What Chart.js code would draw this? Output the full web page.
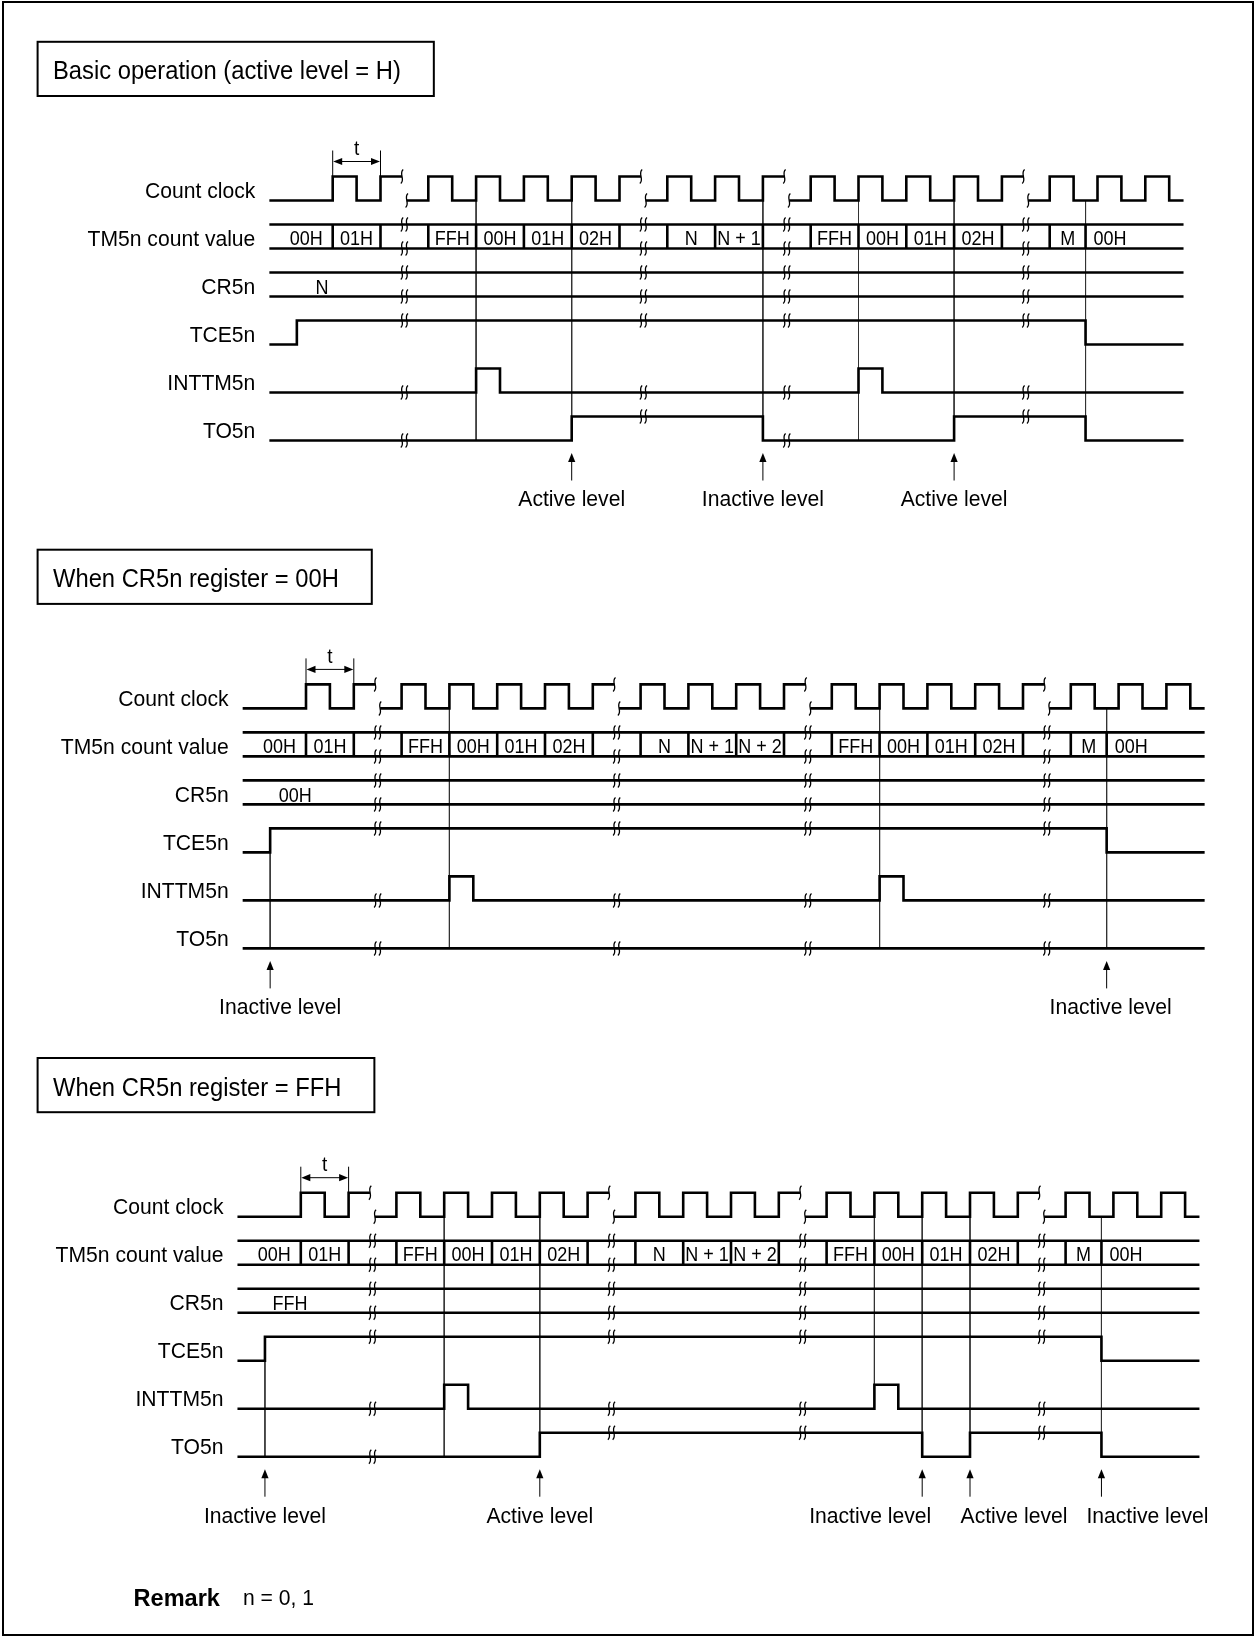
<!DOCTYPE html>
<html lang="en">
<head>
<meta charset="UTF-8">
<title>TM5n PWM output timing</title>
<script src="https://cdn.jsdelivr.net/npm/chart.js"></script>
<style>
  html, body { margin: 0; padding: 0; background: #fff; }
  #wrap { position: relative; width: 1256px; height: 1637px; }
</style>
</head>
<body>
<div id="wrap"><canvas id="timing" width="1256" height="1637"></canvas></div>
<script>
// time is counted in half clock periods, 0 = the rising edge marked "t"
const sectionTitles = ['Basic operation (active level = H)', 'When CR5n register = 00H', 'When CR5n register = FFH'];
const signalNames = ['Count clock', 'TM5n count value', 'CR5n', 'TCE5n', 'INTTM5n', 'TO5n'];
const startT = -2.65;
const endT = [35.6, 37.6, 37.6];

// count clock edges (rise on even, fall on odd) and where the time axis is broken
const clockEdges1 = [0, 1, 2, 3, 4, 5, 6, 7, 8, 9, 10, 11, 12, 13, 14, 15, 16, 17, 18, 19, 20, 21, 22, 23, 24, 25, 26, 27, 28, 29, 30, 31, 32, 33, 34, 35];
const clockEdges2 = [0, 1, 2, 3, 4, 5, 6, 7, 8, 9, 10, 11, 12, 13, 14, 15, 16, 17, 18, 19, 20, 21, 22, 23, 24, 25, 26, 27, 28, 29, 30, 31, 32, 33, 34, 35, 36, 37];
const clockEdges3 = [0, 1, 2, 3, 4, 5, 6, 7, 8, 9, 10, 11, 12, 13, 14, 15, 16, 17, 18, 19, 20, 21, 22, 23, 24, 25, 26, 27, 28, 29, 30, 31, 32, 33, 34, 35, 36, 37];
const breaks1 = [3, 13, 19, 29];
const breaks2 = [3, 13, 21, 31];
const breaks3 = [3, 13, 21, 31];

// TM5n count value: change points and the value shown in each slot
const countEdges1 = [0, 2, 4, 6, 8, 10, 12, 14, 16, 18, 20, 22, 24, 26, 28, 30, 31.5];
const countText1 = ['00H', '01H', '', 'FFH', '00H', '01H', '02H', '', 'N', 'N + 1', '', 'FFH', '00H', '01H', '02H', '', 'M', '00H'];
const countEdges2 = [0, 2, 4, 6, 8, 10, 12, 14, 16, 18, 20, 22, 24, 26, 28, 30, 32, 33.5];
const countText2 = ['00H', '01H', '', 'FFH', '00H', '01H', '02H', '', 'N', 'N + 1', 'N + 2', '', 'FFH', '00H', '01H', '02H', '', 'M', '00H'];
const countEdges3 = [0, 2, 4, 6, 8, 10, 12, 14, 16, 18, 20, 22, 24, 26, 28, 30, 32, 33.5];
const countText3 = ['00H', '01H', '', 'FFH', '00H', '01H', '02H', '', 'N', 'N + 1', 'N + 2', '', 'FFH', '00H', '01H', '02H', '', 'M', '00H'];

const crValue = ['N', '00H', 'FFH'];

// binary signals: all start low, toggle at these times
const tceEdges1 = [-1.5, 31.5];
const tceEdges2 = [-1.5, 33.5];
const tceEdges3 = [-1.5, 33.5];
const intEdges1 = [6, 7, 22, 23];
const intEdges2 = [6, 7, 24, 25];
const intEdges3 = [6, 7, 24, 25];
const toEdges1 = [10, 18, 26, 31.5];
const toEdges2 = [];
const toEdges3 = [10, 26, 28, 33.5];

// thin guide lines: [time, top row, top level, bottom row]
const guides1 = [[6, 0, 0, 5], [10, 0, 0, 5], [18, 0, 0, 5], [22, 0, 0, 5], [26, 0, 0, 5], [31.5, 0, 0, 5]];
const guides2 = [[-1.5, 3, 1, 5], [6, 0, 0, 5], [24, 0, 0, 5], [33.5, 0, 0, 5]];
const guides3 = [[-1.5, 3, 1, 5], [6, 0, 0, 5], [10, 0, 0, 5], [24, 0, 0, 4], [26, 0, 0, 5], [28, 0, 0, 5], [33.5, 0, 0, 5]];

// TO5n level notes
const noteTimes1 = [10, 18, 26];
const noteText1 = ['Active level', 'Inactive level', 'Active level'];
const noteTimes2 = [-1.5, 33.5];
const noteText2 = ['Inactive level', 'Inactive level'];
const noteTimes3 = [-1.5, 10, 26, 28, 33.5];
const noteText3 = ['Inactive level', 'Active level', 'Inactive level', 'Active level', 'Inactive level'];

const sections = [
  { clock: clockEdges1, breaks: breaks1, count: countEdges1, countText: countText1, tce: tceEdges1, int: intEdges1, to: toEdges1, guides: guides1, noteT: noteTimes1, noteS: noteText1 },
  { clock: clockEdges2, breaks: breaks2, count: countEdges2, countText: countText2, tce: tceEdges2, int: intEdges2, to: toEdges2, guides: guides2, noteT: noteTimes2, noteS: noteText2 },
  { clock: clockEdges3, breaks: breaks3, count: countEdges3, countText: countText3, tce: tceEdges3, int: intEdges3, to: toEdges3, guides: guides3, noteT: noteTimes3, noteS: noteText3 }
];

// layout
const W = 1256, H = 1637;
const PX_PER_T = 23.9;
const ORIGIN_PX = [332.7, 306, 300.8];   // x of t = 0 in each section
const BASE_PX = [200.5, 708.4, 1216.7];  // y of the count clock low level
const UNIT = 24;                          // one logic level, in px
const noteShift = [[0, 0, 0], [10, 4], [0, 0, -52, 44, 46]];
const FONT = '"Liberation Sans", Arial, Helvetica, sans-serif';

const rowLow = (s, r) => BASE_PX[s] / UNIT + 2 * r;

function wave(edges, yLow, t0, t1, breaks) {
  const pts = [{ x: t0, y: yLow }];
  let v = 0;
  edges.forEach(t => {
    if (breaks && breaks.includes(t)) {
      pts.push({ x: t - 0.1, y: yLow - v });
      pts.push({ x: t, y: null });
      v = 1 - v;
      pts.push({ x: t + 0.1, y: yLow - v });
    } else {
      pts.push({ x: t, y: yLow - v });
      v = 1 - v;
      pts.push({ x: t, y: yLow - v });
    }
  });
  pts.push({ x: t1, y: yLow - v });
  return pts;
}

function levelAt(edges, t) {
  return edges.filter(e => e < t).length % 2;
}

const datasets = [];
function addLine(xid, data, thin) {
  datasets.push({
    data: data, xAxisID: xid, yAxisID: 'y',
    borderColor: thin ? '#333' : '#000', borderWidth: thin ? 1 : 2.6,
    pointRadius: 0, fill: false, tension: 0, spanGaps: false,
    borderJoinStyle: 'miter', borderCapStyle: 'butt', order: thin ? 2 : 1
  });
}

sections.forEach((sec, s) => {
  const xid = 'x' + (s + 1);
  const t1 = endT[s];
  addLine(xid, wave(sec.clock, rowLow(s, 0), startT, t1, sec.breaks));
  // count value bus
  addLine(xid, [{ x: startT, y: rowLow(s, 1) - 1 }, { x: t1, y: rowLow(s, 1) - 1 }]);
  addLine(xid, [{ x: startT, y: rowLow(s, 1) }, { x: t1, y: rowLow(s, 1) }]);
  const sep = [];
  sec.count.forEach(t => { sep.push({ x: t, y: rowLow(s, 1) - 1 }, { x: t, y: rowLow(s, 1) }, { x: t, y: null }); });
  addLine(xid, sep);
  // CR5n bus
  addLine(xid, [{ x: startT, y: rowLow(s, 2) - 1 }, { x: t1, y: rowLow(s, 2) - 1 }]);
  addLine(xid, [{ x: startT, y: rowLow(s, 2) }, { x: t1, y: rowLow(s, 2) }]);
  addLine(xid, wave(sec.tce, rowLow(s, 3), startT, t1));
  addLine(xid, wave(sec.int, rowLow(s, 4), startT, t1));
  addLine(xid, wave(sec.to, rowLow(s, 5), startT, t1));
  const g = [];
  sec.guides.forEach(([t, r0, lv, r1]) => { g.push({ x: t, y: rowLow(s, r0) - lv }, { x: t, y: rowLow(s, r1) }, { x: t, y: null }); });
  addLine(xid, g, true);
});

function txt(ctx, str, x, yMid, size, align, squeeze, bold) {
  ctx.save();
  ctx.font = (bold ? 'bold ' : '') + size + 'px ' + FONT;
  ctx.textBaseline = 'alphabetic';
  ctx.textAlign = align;
  ctx.fillStyle = '#000';
  ctx.translate(x, yMid + size * 0.36);
  ctx.scale(squeeze, 1);
  ctx.fillText(str, 0, 0);
  ctx.restore();
}

function squiggle(ctx, x, y) {
  ctx.beginPath();
  ctx.moveTo(x + 1.2, y - 7);
  ctx.bezierCurveTo(x - 3.5, y - 3, x + 3.5, y + 3, x - 1.2, y + 7);
  ctx.stroke();
}

function arrowHead(ctx, x, y, dx, dy) {
  // tip at (x, y), pointing along (dx, dy)
  const L = 9, Wd = 3.6;
  ctx.beginPath();
  ctx.moveTo(x, y);
  ctx.lineTo(x - dx * L - dy * Wd, y - dy * L + dx * Wd);
  ctx.lineTo(x - dx * L + dy * Wd, y - dy * L - dx * Wd);
  ctx.closePath();
  ctx.fill();
}

const decor = {
  id: 'decor',
  afterDatasetsDraw(chart) {
    const ctx = chart.ctx;
    const Y = v => chart.scales.y.getPixelForValue(v);
    ctx.save();
    ctx.strokeStyle = '#000';
    ctx.fillStyle = '#000';
    ctx.lineWidth = 2;
    ctx.strokeRect(3, 2, W - 6, H - 4);

    sections.forEach((sec, s) => {
      const xs = chart.scales['x' + (s + 1)];
      const X = t => xs.getPixelForValue(t);
      const low = r => Y(rowLow(s, r));
      const high = r => Y(rowLow(s, r) - 1);

      // title box
      ctx.font = '25px ' + FONT;
      const tw = ctx.measureText(sectionTitles[s]).width * 0.95;
      const boxTop = BASE_PX[s] - 158.7;
      ctx.lineWidth = 2;
      ctx.strokeRect(37.6, boxTop, 53 - 37.6 + tw + 33, 54.2);
      txt(ctx, sectionTitles[s], 53, boxTop + 28.5, 25, 'left', 0.95);

      // signal names
      signalNames.forEach((name, r) => {
        txt(ctx, name, X(startT) - 14, low(r) - 10.8, 22, 'right', 0.96);
      });

      // count value labels
      const bounds = [startT].concat(sec.count, [endT[s]]);
      sec.countText.forEach((label, i) => {
        if (!label) return;
        const a = X(bounds[i]), b = X(bounds[i + 1]);
        const y = low(1) - 10.5;
        if (i === 0) txt(ctx, label, b - 10, y, 20, 'right', 0.9);
        else if (i === sec.countText.length - 1) txt(ctx, label, a + 8, y, 20, 'left', 0.9);
        else txt(ctx, label, (a + b) / 2, y, 20, 'center', 0.9);
      });
      txt(ctx, crValue[s], X(startT + 2.2), low(2) - 10, 20, 'center', 0.9);

      // period "t"
      const hy = high(0);
      ctx.lineWidth = 1;
      [0, 2].forEach(t => {
        ctx.beginPath(); ctx.moveTo(X(t), hy); ctx.lineTo(X(t), hy - 26); ctx.stroke();
      });
      ctx.beginPath(); ctx.moveTo(X(0) + 4, hy - 15); ctx.lineTo(X(2) - 4, hy - 15); ctx.stroke();
      arrowHead(ctx, X(0) + 0.5, hy - 15, -1, 0);
      arrowHead(ctx, X(2) - 0.5, hy - 15, 1, 0);
      txt(ctx, 't', X(1), hy - 29, 20, 'center', 0.95);

      // time axis breaks
      ctx.lineWidth = 1.3;
      sec.breaks.forEach(b => {
        const xa = X(b - 0.1), xb = X(b + 0.1);
        squiggle(ctx, xa, high(0));
        squiggle(ctx, xb, low(0));
        [high(1), low(1), high(2), low(2)].forEach(y => { squiggle(ctx, xa, y); squiggle(ctx, xb, y); });
        [[sec.tce, 3], [sec.int, 4], [sec.to, 5]].forEach(([edges, r]) => {
          const y = levelAt(edges, b) ? high(r) : low(r);
          squiggle(ctx, xa, y); squiggle(ctx, xb, y);
        });
      });

      // TO5n level notes
      const toLow = low(5);
      ctx.lineWidth = 1;
      sec.noteT.forEach((t, i) => {
        const x = X(t);
        ctx.beginPath(); ctx.moveTo(x, toLow + 40); ctx.lineTo(x, toLow + 18); ctx.stroke();
        arrowHead(ctx, x, toLow + 12.5, 0, -1);
        txt(ctx, sec.noteS[i], x + (noteShift[s][i] || 0), toLow + 58, 22, 'center', 0.96);
      });
    });

    txt(ctx, 'Remark', 133.6, 1597, 24, 'left', 0.98, true);
    txt(ctx, 'n = 0, 1', 243, 1597, 22, 'left', 0.96);
    ctx.restore();
  }
};

const xScale = s => ({
  type: 'linear', display: false,
  min: -ORIGIN_PX[s] / PX_PER_T, max: (W - ORIGIN_PX[s]) / PX_PER_T
});

new Chart(document.getElementById('timing').getContext('2d'), {
  type: 'line',
  data: { datasets: datasets },
  options: {
    responsive: false,
    devicePixelRatio: 1,
    animation: false,
    layout: { padding: 0 },
    plugins: { legend: { display: false }, tooltip: { enabled: false } },
    scales: {
      x1: xScale(0), x2: xScale(1), x3: xScale(2),
      y: { type: 'linear', display: false, min: 0, max: H / UNIT, reverse: true }
    }
  },
  plugins: [decor]
});
</script>
</body>
</html>
